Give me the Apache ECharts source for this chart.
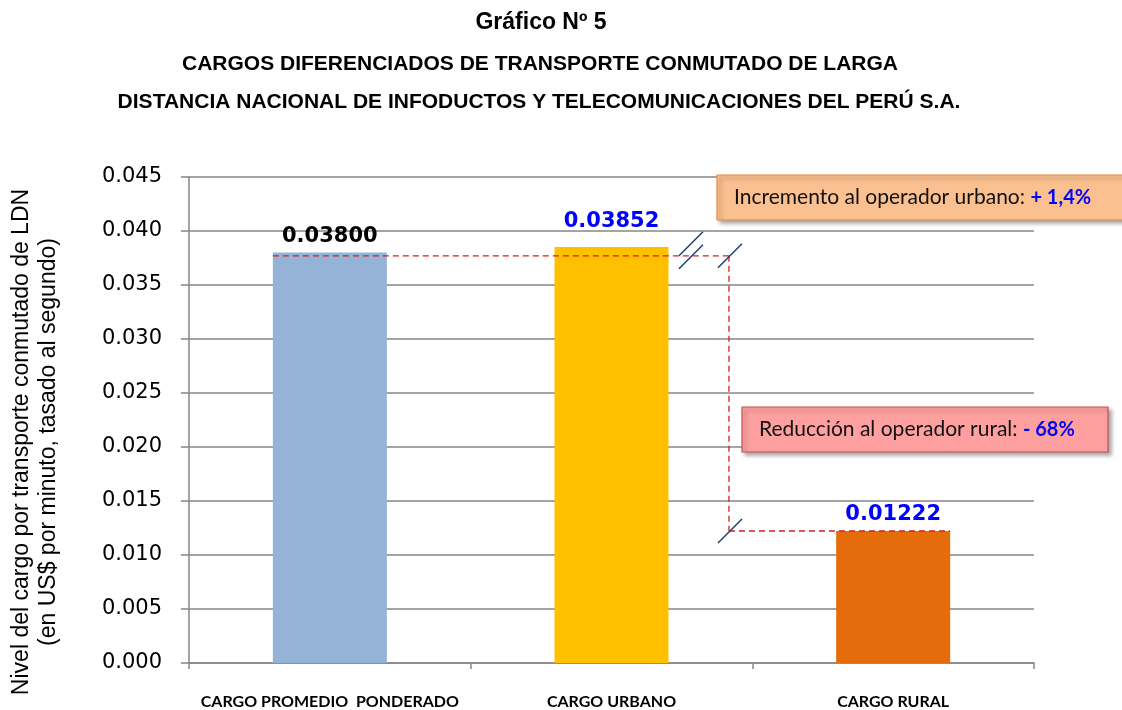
<!DOCTYPE html>
<html>
<head>
<meta charset="utf-8">
<script src="https://cdn.jsdelivr.net/npm/echarts@6/dist/echarts.min.js"></script>
<style>
    html, body { margin: 0; padding: 0; background: #fff; }
    #charts { width: 1122px; height: 710px; }
</style>
</head>
<body>
<div id="charts"></div>
<script>
// datos del grafico
var categories = ['CARGO PROMEDIO  PONDERADO', 'CARGO URBANO', 'CARGO RURAL'];
var values = [0.03800, 0.03852, 0.01222];
var barColors = ['#95B3D7', '#FFC000', '#E46C0A'];
var labelColors = ['#000000', '#0000FF', '#0000FF'];
var labelGaps = [6, 15, 6];
var yMin = 0, yMax = 0.045, yStep = 0.005;
var refLevel = 0.0377;   // nivel de la linea punteada superior
var titles = [
    'Gráfico Nº 5',
    'CARGOS DIFERENCIADOS DE TRANSPORTE CONMUTADO DE LARGA',
    'DISTANCIA NACIONAL DE INFODUCTOS Y TELECOMUNICACIONES DEL PERÚ S.A.'
];
var yName = ['Nivel del cargo por transporte conmutado de LDN', '(en US$ por minuto, tasado al segundo)'];
var noteUrban = ['Incremento al operador urbano: ', '+ 1,4%'];
var noteRural = ['Reducción al operador rural: ', '- 68%'];

(function () {
    var myChart = echarts.init(document.getElementById('charts'));
    var gray = '#868686';

    function titleStyle(size) {
        return {fontFamily: 'Liberation Sans', fontWeight: 'bold', fontSize: size, color: '#000'};
    }

    var option = {
        animation: false,
        title: [
            {text: titles[0], left: 536, textAlign: 'center', top: 6, textStyle: titleStyle(23)},
            {text: titles[1], left: 535, textAlign: 'center', top: 49, textStyle: titleStyle(21)},
            {text: titles[2], left: 534, textAlign: 'center', top: 87, textStyle: titleStyle(21)}
        ],
        grid: {left: 189, right: 88, top: 177, bottom: 46},
        xAxis: {
            type: 'category',
            data: categories,
            axisLine: {lineStyle: {color: gray, width: 1.5}},
            axisTick: {show: true, length: 6, lineStyle: {color: gray, width: 1.5}},
            axisLabel: {
                interval: 0,
                hideOverlap: false,
                margin: 31,
                color: '#000',
                fontFamily: 'Lato',
                fontWeight: 'bold',
                fontSize: 16
            }
        },
        yAxis: {
            type: 'value',
            min: yMin,
            max: yMax,
            interval: yStep,
            axisLine: {show: true, lineStyle: {color: gray, width: 1.5}},
            axisTick: {show: true, length: 8, lineStyle: {color: gray, width: 1.5}},
            splitLine: {lineStyle: {color: gray, width: 1.5}},
            axisLabel: {
                margin: 27,
                color: '#000',
                fontFamily: 'DejaVu Sans',
                fontSize: 21,
                formatter: function (v) { return v.toFixed(3); }
            }
        },
        series: [{
            type: 'bar',
            barWidth: 114,
            data: values.map(function (v, i) {
                return {
                    value: v,
                    itemStyle: {color: barColors[i]},
                    label: {color: labelColors[i], distance: labelGaps[i]}
                };
            }),
            label: {
                show: true,
                position: 'top',
                fontFamily: 'DejaVu Sans',
                fontWeight: 'bold',
                fontSize: 21,
                formatter: function (p) { return p.value.toFixed(5); }
            }
        }]
    };
    myChart.setOption(option);

    // anotaciones: lineas punteadas, marcas de corte y recuadros
    var half = 57;
    var p0 = myChart.convertToPixel({seriesIndex: 0}, [0, refLevel]);
    var p1 = myChart.convertToPixel({seriesIndex: 0}, [1, refLevel]);
    var p2 = myChart.convertToPixel({seriesIndex: 0}, [2, values[2]]);
    var xv = p1[0] + 0.417 * (p2[0] - p1[0]);
    var red = {stroke: '#D42020', lineWidth: 1.3, lineDash: [6, 4]};
    var slash = {stroke: '#1F3F6E', lineWidth: 1.5};

    function line(x1, y1, x2, y2, st) {
        return {type: 'line', z: 50, shape: {x1: x1, y1: y1, x2: x2, y2: y2}, style: st};
    }
    function cut(cx, cy) {
        return line(cx - 12, cy + 12, cx + 12, cy - 12, slash);
    }
    function note(x, y, w, h, fill, border, parts) {
        return [
            {type: 'rect', z: 60, shape: {x: x, y: y, width: w, height: h},
                style: {fill: fill, stroke: border, lineWidth: 1.2,
                    shadowBlur: 4, shadowOffsetX: 3, shadowOffsetY: 3, shadowColor: 'rgba(0,0,0,0.35)'}},
            {type: 'text', z: 61, x: x + 17, y: y + h / 2,
                style: {
                    text: '{a|' + parts[0] + '}{b|' + parts[1] + '}',
                    verticalAlign: 'middle',
                    rich: {
                        a: {fontFamily: 'Lato', fontSize: 21, fill: '#111'},
                        b: {fontFamily: 'Lato', fontWeight: 'bold', fontSize: 20, fill: '#0000FF'}
                    }
                }}
        ];
    }

    var els = [
        line(p0[0] - half, p0[1], xv, p0[1], red),
        line(xv, p0[1], xv, p2[1], red),
        line(xv, p2[1], p2[0] + half, p2[1], red),
        cut(xv - 38, p0[1] - 12),
        cut(xv - 38, p0[1] + 1),
        cut(xv + 1, p0[1]),
        cut(xv + 1, p2[1])
    ];
    els = els.concat(note(717, 175, 410, 45, '#FAC08F', '#F08A3C', noteUrban));
    els = els.concat(note(742, 407, 366, 45, '#FFA0A0', '#C8504D', noteRural));

    // titulo del eje Y en dos lineas
    var yc = 442;
    els.push({type: 'text', x: 22, y: yc, rotation: Math.PI / 2,
        style: {text: yName[0], align: 'center', verticalAlign: 'middle',
            fontFamily: 'Liberation Sans', fontSize: 23, fill: '#000'}});
    els.push({type: 'text', x: 49, y: yc, rotation: Math.PI / 2,
        style: {text: yName[1], align: 'center', verticalAlign: 'middle',
            fontFamily: 'Liberation Sans', fontSize: 23, fill: '#000'}});

    myChart.setOption({graphic: els});
})();
</script>
</body>
</html>
